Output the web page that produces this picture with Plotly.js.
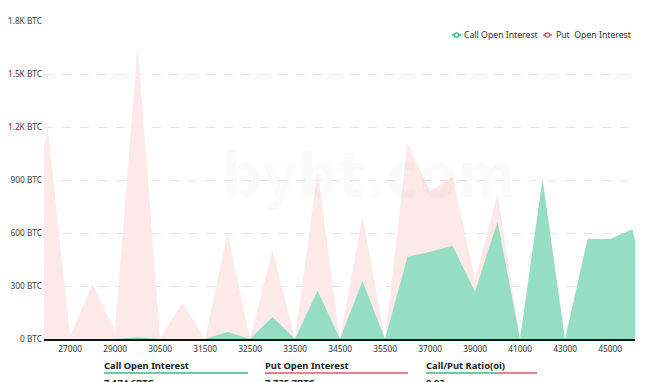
<!DOCTYPE html>
<html>
<head>
<meta charset="utf-8">
<script src="https://cdn.plot.ly/plotly-3.0.1.min.js"></script>
<style>
  html, body { margin: 0; padding: 0; background: #fff; }
  #chart { width: 663px; height: 382px; }
</style>
</head>
<body>
<div id="chart"></div>
<script>
// Strike price categories
const strikes = ['25000','26000','27000','28000','29000','30000','30500','31000','31500','32000','32500','33000','33500','34000','34500','35000','35500','36000','37000','38000','39000','40000','41000','42000','43000','44000','45000','46000','47000'];
// Put open interest (BTC)
const putOI  = [420,1210,15,310,45,1660,5,204,0,600,0,505,0,950,0,697,0,1110,835,920,340,824,0,0,0,0,0,0,0];
// Call open interest (BTC)
const callOI = [0,0,0,0,0,10,0,0,0,40,0,124,0,273,0,328,0,466,494,528,268,664,0,905,0,566,566,621,0];
// Tick labels
const xTickLabels = ['27000','29000','30500','31500','32500','33500','34500','35500','37000','39000','41000','43000','45000'];
const yTickVals = [0,300,600,900,1200,1500,1800];
const yTickText = ['0 BTC','300 BTC','600 BTC','900 BTC','1.2K BTC','1.5K BTC','1.8K BTC'];
// Summary
const summaryLabels = ['Call Open Interest','Put Open Interest','Call/Put Ratio(oi)'];
const summaryValues = ['7,174.6BTC','7,735.7BTC','0.93'];
const legendNames = ['Call Open Interest','Put\u00a0 Open Interest'];

const GREEN_FILL = '#95dec1';
const PINK_FILL = '#fde8ea';
const GREEN = '#2dbf87';
const RED = '#f0506e';
const FONT = 'Noto Sans, Open Sans, sans-serif';

const traces = [
  {
    type: 'scatter', mode: 'lines', x: strikes, y: putOI, name: legendNames[1],
    fill: 'tozeroy', fillcolor: PINK_FILL, line: {width: 0, color: PINK_FILL},
    showlegend: false, hoverinfo: 'skip'
  },
  {
    type: 'scatter', mode: 'lines', x: strikes, y: callOI, name: legendNames[0],
    fill: 'tozeroy', fillcolor: GREEN_FILL, line: {width: 0, color: GREEN_FILL},
    showlegend: false, hoverinfo: 'skip'
  }
];

// pixel helpers for paper coords (plot area: x 44..635, y 21..339)
const L = 44, R = 635, T = 21, B = 339;
const px = x => (x - L) / (R - L);
const py = y => (B - y) / (B - T);

const annotations = [];
const shapes = [];

// watermark
annotations.push({
  xref: 'paper', yref: 'paper', x: px(369), y: py(175), text: '<b>bybt.com</b>',
  showarrow: false, xanchor: 'center', yanchor: 'middle',
  font: {family: 'DejaVu Sans Condensed, sans-serif', size: 62, color: 'rgba(0,0,0,0.018)'}
});

// legend (custom, matches small "-o-" icons)
const legendItems = [
  {name: legendNames[0], color: GREEN, lx: 452, tx: 464},
  {name: legendNames[1], color: RED, lx: 543, tx: 556}
];
legendItems.forEach(it => {
  shapes.push({type: 'line', xref: 'paper', yref: 'paper', x0: px(it.lx), x1: px(it.lx + 9), y0: py(35), y1: py(35),
    line: {color: it.color, width: 1.5}});
  shapes.push({type: 'circle', xref: 'paper', yref: 'paper', xsizemode: 'pixel', ysizemode: 'pixel',
    xanchor: px(it.lx + 4.5), yanchor: py(35), x0: -2.2, x1: 2.2, y0: -2.2, y1: 2.2,
    fillcolor: '#fff', line: {color: it.color, width: 1.3}});
  annotations.push({xref: 'paper', yref: 'paper', x: px(it.tx - 2), y: py(35), text: it.name,
    showarrow: false, xanchor: 'left', yanchor: 'middle',
    font: {family: FONT, size: 8.7, color: '#333'}});
});

// summary below chart
const sumX = [104, 265, 426];
summaryLabels.forEach((lab, i) => {
  annotations.push({xref: 'paper', yref: 'paper', x: px(sumX[i] - 2), y: py(365.5), text: '<b>' + lab + '</b>',
    showarrow: false, xanchor: 'left', yanchor: 'middle',
    font: {family: FONT, size: 9.4, color: '#222'}});
  annotations.push({xref: 'paper', yref: 'paper', x: px(sumX[i] - 2), y: py(382), text: '<b>' + summaryValues[i] + '</b>',
    showarrow: false, xanchor: 'left', yanchor: 'middle',
    font: {family: FONT, size: 9.4, color: '#222'}});
});
shapes.push({type: 'line', xref: 'paper', yref: 'paper', x0: px(104), x1: px(248), y0: py(373), y1: py(373), line: {color: GREEN, width: 1.3}});
shapes.push({type: 'line', xref: 'paper', yref: 'paper', x0: px(265), x1: px(408), y0: py(373), y1: py(373), line: {color: RED, width: 1.3}});
shapes.push({type: 'line', xref: 'paper', yref: 'paper', x0: px(426), x1: px(498), y0: py(373), y1: py(373), line: {color: GREEN, width: 1.3}});
shapes.push({type: 'line', xref: 'paper', yref: 'paper', x0: px(498), x1: px(537), y0: py(373), y1: py(373), line: {color: RED, width: 1.3}});

const layout = {
  width: 663, height: 382,
  margin: {l: L, r: 663 - R, t: T, b: 382 - B, pad: 0},
  paper_bgcolor: '#fff', plot_bgcolor: '#fff',
  showlegend: false,
  hovermode: false,
  xaxis: {
    type: 'category', categoryorder: 'array', categoryarray: strikes,
    range: [0.844, 27.11],
    tickmode: 'array', tickvals: xTickLabels, ticktext: xTickLabels,
    showgrid: false, zeroline: false, showline: true, linecolor: '#111', linewidth: 1.5,
    ticks: '', ticklabelstandoff: 2,
    tickfont: {family: FONT, size: 8.3, color: '#333'},
    fixedrange: true
  },
  yaxis: {
    range: [0, 1800],
    tickmode: 'array', tickvals: yTickVals, ticktext: yTickText,
    showgrid: true, gridcolor: '#e6e6e6', griddash: 'dash', gridwidth: 1,
    zeroline: false, showline: false, ticks: '', ticklabelstandoff: 1,
    tickfont: {family: FONT, size: 8.3, color: '#444'},
    fixedrange: true
  },
  annotations: annotations,
  shapes: shapes
};

Plotly.newPlot('chart', traces, layout, {displayModeBar: false, staticPlot: true});
</script>
</body>
</html>
